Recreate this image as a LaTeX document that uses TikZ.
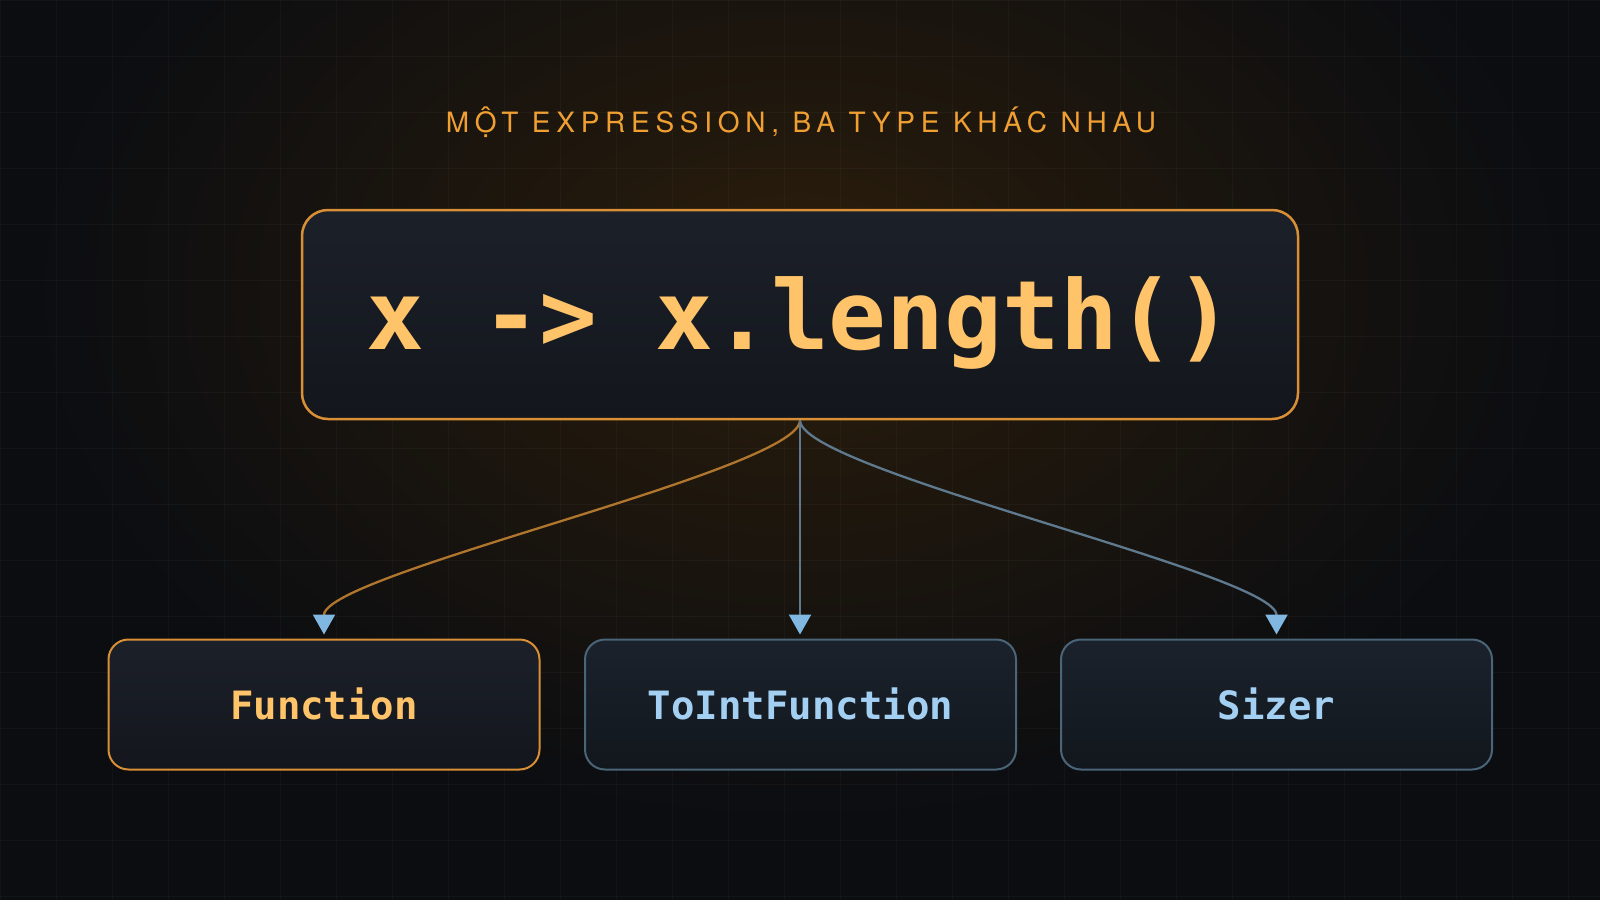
\documentclass[tikz,border=0pt]{standalone}
\usepackage{fontspec}
\setmainfont{TeX Gyre Heros}
\newfontfamily\titlefont[LetterSpace=20.5]{TeX Gyre Heros}
\newfontfamily\codefont{DejaVu Sans Mono}
\usetikzlibrary{arrows.meta}

\definecolor{bgc}{HTML}{0B0D11}
\definecolor{glowc}{HTML}{2D1E0B}
\definecolor{glowm}{HTML}{1F170D}
\definecolor{titlec}{HTML}{F0A032}
\definecolor{codec}{HTML}{FFC46A}
\definecolor{orangeb}{HTML}{D98F35}
\definecolor{orangel}{HTML}{B0762D}
\definecolor{slateb}{HTML}{4A6478}
\definecolor{slatel}{HTML}{5F7A8F}
\definecolor{tipblue}{HTML}{80B8E2}
\definecolor{bluetext}{HTML}{A3D0F2}
\definecolor{boxtop}{HTML}{1C2029}
\definecolor{boxbot}{HTML}{13161C}
\definecolor{btop}{HTML}{1B222C}
\definecolor{bbot}{HTML}{12171D}

\pgfdeclareradialshading{glow}{\pgfpoint{0bp}{0bp}}{color(0bp)=(glowc); color(9bp)=(glowm); color(25bp)=(bgc); color(50bp)=(bgc)}

\tikzset{
  gridline/.style={white, opacity=0.03, line width=1pt},
  codebox/.style={draw=orangeb, line width=2.5pt, rounded corners=26pt,
    minimum width=996pt, minimum height=209pt, inner sep=0pt,
    top color=boxtop, bottom color=boxbot,
    text height=80pt, text depth=11pt, text=codec,
    font=\codefont\bfseries\fontsize{96}{100}\selectfont},
  typebox/.style={line width=2pt, rounded corners=20pt,
    minimum width=431pt, minimum height=130pt, inner sep=0pt,
    text height=35pt, text depth=6pt,
    font=\codefont\bfseries\fontsize{39}{44}\selectfont},
  orangebox/.style={typebox, draw=orangeb, top color=boxtop, bottom color=boxbot, text=codec},
  bluebox/.style={typebox, draw=slateb, top color=btop, bottom color=bbot, text=bluetext},
  link/.style={line width=2.3pt, shorten >=4pt,
    -{Triangle[width=22pt,length=20pt,color=tipblue]}},
  titlestyle/.style={text=titlec, inner sep=0pt, anchor=base,
    font=\titlefont\fontsize{28}{30}\selectfont}
}

\begin{document}
\begin{tikzpicture}[x=1pt, y=-1pt]
  \useasboundingbox (0,0) rectangle (1600,900);
  \fill[bgc] (0,0) rectangle (1600,900);
  \begin{scope}
    \clip (0,0) rectangle (1600,900);
    \shade[shading=glow] (800,290) ellipse [x radius=780, y radius=540];
    \foreach \i in {0,56,...,1600} \draw[gridline] (\i,0) -- (\i,900);
    \foreach \j in {0,56,...,900} \draw[gridline] (0,\j) -- (1600,\j);
  \end{scope}

  \node[titlestyle] (title) at (801,132) {MỘT EXPRESSION, BA TYPE KHÁC NHAU};

  \node[codebox] (code) at (800,314.5) {x -> x.length()};

  \node[orangebox] (fn) at (324,704.5) {Function};
  \node[bluebox] (toint) at (800.5,704.5) {ToIntFunction};
  \node[bluebox] (sizer) at (1276.5,704.5) {Sizer};

  \draw[link, orangel] (code.south) .. controls +(0,50) and +(0,-65) .. (fn.north);
  \draw[link, slatel] (code.south) -- (code.south |- toint.north);
  \draw[link, slatel] (code.south) .. controls +(0,50) and +(0,-65) .. (sizer.north);
\end{tikzpicture}
\end{document}
